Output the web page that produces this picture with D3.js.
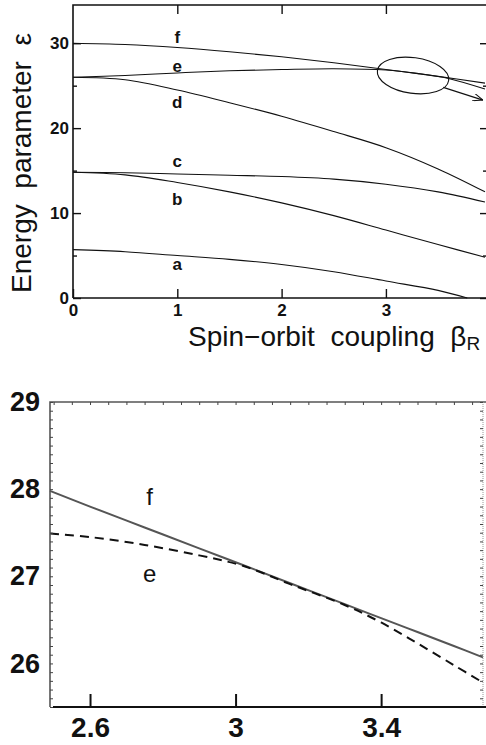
<!DOCTYPE html>
<html>
<head>
<meta charset="utf-8">
<script src="https://cdn.jsdelivr.net/npm/d3@7"></script>
<style>
    body { margin: 0; background: #fff; }
    svg { display: block; }
    text { font-family: "Liberation Sans", Arial, Helvetica, sans-serif; }
</style>
</head>
<body>
<div id="container"></div>
<script>
// 上图：能级 a-f 随自旋轨道耦合 β 的变化
const topBeta = [0, 0.5, 1, 1.5, 2, 2.5, 3, 3.5, 3.95];
const levelB = [14.8, 14.5, 13.6, 12.5, 11.2, 9.7, 8.0, 6.3, 4.8];
const levelC = [14.8, 14.75, 14.6, 14.45, 14.3, 14.0, 13.4, 12.5, 11.3];
const levelD = [26.0, 25.7, 24.5, 23.0, 21.4, 19.6, 17.7, 15.2, 12.5];
const levelF = [30.0, 29.85, 29.5, 29.0, 28.4, 27.7, 26.9, 26.1, 25.3];
const betaA = [0, 0.5, 1, 1.5, 2, 2.5, 3, 3.5, 3.78];
const levelA = [5.7, 5.45, 5.0, 4.55, 3.95, 3.1, 2.0, 0.9, 0];
const betaE = [0, 0.5, 1, 1.5, 2, 2.5, 3, 3.3, 3.6, 3.95];
const levelE = [26.0, 26.2, 26.5, 26.75, 26.9, 27.0, 26.85, 26.45, 25.85, 24.6];
const levelNames = ['a', 'b', 'c', 'd', 'e', 'f'];
const labelBeta = 1;
const labelEps = [3.3, 10.9, 15.4, 22.4, 26.6, 30.0];
const topXTicks = [0, 1, 2, 3];
const topYTicks = [0, 10, 20, 30];
const topYMinor = [5, 15, 25];
const topRightTicks = [0, 5, 10, 15, 20, 25, 30];

// 下图：e 和 f 的放大
const zoomBeta = [2.49, 2.6, 2.75, 2.9, 3.02, 3.15, 3.3, 3.4, 3.5, 3.6, 3.68];
const zoomF = [27.98, 27.8, 27.56, 27.32, 27.13, 26.92, 26.68, 26.52, 26.36, 26.2, 26.07];
const zoomE = [27.49, 27.45, 27.36, 27.24, 27.12, 26.91, 26.67, 26.47, 26.23, 25.98, 25.78];
const zoomXTicks = [2.6, 3, 3.4];
const zoomYTicks = [26, 27, 28, 29];
const zoomLabels = [{name: 'f', beta: 2.764, eps: 27.82}, {name: 'e', beta: 2.764, eps: 26.93}];

// 圈出的交叉区域和箭头（数据坐标）
const circleSpot = {beta: 3.26, eps: 26.2, rBeta: 0.345, rEps: 2.1, angle: 8};
const arrowFrom = [3.55, 24.8];
const arrowTo = [3.93, 23.3];

const WIDTH = 486, HEIGHT = 745;

const svg = d3.select('#container')
    .append('svg')
    .attr('width', WIDTH)
    .attr('height', HEIGHT);

svg.append('defs').append('marker')
    .attr('id', 'arrowHead')
    .attr('viewBox', '0 0 10 8')
    .attr('refX', 10)
    .attr('refY', 4)
    .attr('markerWidth', 10)
    .attr('markerHeight', 8)
    .attr('markerUnits', 'userSpaceOnUse')
    .attr('orient', 'auto')
    .append('path')
    .attr('d', 'M0,0 L10,4 L0,8')
    .attr('fill', 'none')
    .attr('stroke', '#111')
    .attr('stroke-width', 1);

const styleAxis = (g, size) => {
    g.select('.domain').remove();
    g.selectAll('.tick line').attr('stroke', '#111').attr('stroke-width', 1.4);
    g.selectAll('.tick text')
        .attr('fill', '#111')
        .style('font-size', size + 'px')
        .style('font-weight', 'bold');
};

// ---------- 上图 ----------
const x = d3.scaleLinear().domain([0, 3.95]).range([73, 485]);
const y = d3.scaleLinear().domain([0, 34.5]).range([298, 5]);

const topG = svg.append('g');

const line = d3.line()
    .x(d => x(d[0]))
    .y(d => y(d[1]))
    .curve(d3.curveCatmullRom.alpha(0.5));

const levels = [
    d3.zip(betaA, levelA),
    d3.zip(topBeta, levelB),
    d3.zip(topBeta, levelC),
    d3.zip(topBeta, levelD),
    d3.zip(betaE, levelE),
    d3.zip(topBeta, levelF)
];

topG.append('g')
    .selectAll('path')
    .data(levels)
    .join('path')
    .attr('d', line)
    .attr('fill', 'none')
    .attr('stroke', '#111')
    .attr('stroke-width', 1.1);

// 坐标框
topG.append('path')
    .attr('d', `M${x(0)},${y(0)} V${y.range()[1]} H${WIDTH + 2} M${x(0)},${y(0)} H${WIDTH + 2}`)
    .attr('fill', 'none')
    .attr('stroke', '#111')
    .attr('stroke-width', 1.6);

topG.append('g')
    .attr('transform', `translate(${x(0)},0)`)
    .call(d3.axisLeft(y).tickValues(topYTicks).tickSize(-8).tickPadding(4).tickFormat(d3.format('d')))
    .call(g => styleAxis(g, 17));

topG.append('g')
    .attr('transform', `translate(${x(0)},0)`)
    .call(d3.axisLeft(y).tickValues(topYMinor).tickSize(-4).tickFormat(''))
    .call(g => styleAxis(g, 17));

topG.append('g')
    .attr('transform', `translate(0,${y(0)})`)
    .call(d3.axisBottom(x).tickValues(topXTicks).tickSize(-9).tickPadding(6).tickFormat(d3.format('d')))
    .call(g => styleAxis(g, 17));

topG.append('g')
    .attr('transform', `translate(0,${y.range()[1]})`)
    .call(d3.axisTop(x).tickValues(topXTicks.slice(1)).tickSize(-9).tickFormat(''))
    .call(g => styleAxis(g, 17));

topG.append('g')
    .attr('transform', `translate(${WIDTH + 2},0)`)
    .call(d3.axisRight(y).tickValues(topRightTicks).tickSize(-6).tickFormat(''))
    .call(g => styleAxis(g, 17))
    .call(g => g.selectAll('.tick line').attr('x2', d => d % 10 === 0 ? -8 : -5));

// 能级标签
topG.append('g')
    .selectAll('text')
    .data(levelNames)
    .join('text')
    .attr('x', x(labelBeta))
    .attr('y', (d, i) => y(labelEps[i]))
    .attr('text-anchor', 'middle')
    .style('font-size', '17px')
    .style('font-weight', 'bold')
    .attr('fill', '#111')
    .text(d => d);

// 椭圆和箭头
const cx = x(circleSpot.beta), cy = y(circleSpot.eps);
topG.append('ellipse')
    .attr('cx', cx)
    .attr('cy', cy)
    .attr('rx', x(circleSpot.beta + circleSpot.rBeta) - cx)
    .attr('ry', y(circleSpot.eps - circleSpot.rEps) - cy)
    .attr('transform', `rotate(${circleSpot.angle},${cx},${cy})`)
    .attr('fill', 'none')
    .attr('stroke', '#111')
    .attr('stroke-width', 1.1);

topG.append('line')
    .attr('x1', x(arrowFrom[0]))
    .attr('y1', y(arrowFrom[1]))
    .attr('x2', x(arrowTo[0]))
    .attr('y2', y(arrowTo[1]))
    .attr('stroke', '#111')
    .attr('stroke-width', 1.1)
    .attr('marker-end', 'url(#arrowHead)');

// 轴标题
topG.append('text')
    .attr('transform', 'translate(31,163) rotate(-90)')
    .attr('text-anchor', 'middle')
    .style('font-size', '28px')
    .attr('fill', '#111')
    .attr('xml:space', 'preserve')
    .text('Energy  parameter  \u03b5');

const xTitle = topG.append('text')
    .attr('x', 188)
    .attr('y', 346)
    .style('font-size', '28px')
    .attr('fill', '#111')
    .attr('xml:space', 'preserve');
xTitle.append('tspan').text('Spin\u2212orbit  coupling  \u03b2');
xTitle.append('tspan').attr('dy', 4).style('font-size', '19px').text('R');

// ---------- 下图 ----------
const zx = d3.scaleLinear().domain([2.49, 3.68]).range([50, 483]);
const zy = d3.scaleLinear().domain([25.5, 29]).range([707, 402]);

const bottomG = svg.append('g');

const zoomLine = d3.line()
    .x(d => zx(d[0]))
    .y(d => zy(d[1]))
    .curve(d3.curveCatmullRom.alpha(0.5));

bottomG.append('path')
    .attr('d', zoomLine(d3.zip(zoomBeta, zoomF)))
    .attr('fill', 'none')
    .attr('stroke', '#555')
    .attr('stroke-width', 2);

bottomG.append('path')
    .attr('d', zoomLine(d3.zip(zoomBeta, zoomE)))
    .attr('fill', 'none')
    .attr('stroke', '#111')
    .attr('stroke-width', 2)
    .attr('stroke-dasharray', '9,6');

// 框线
bottomG.append('path')
    .attr('d', `M${zx.range()[0]},${zy.range()[0]} V${zy.range()[1]} H${WIDTH}`)
    .attr('fill', 'none')
    .attr('stroke', '#555')
    .attr('stroke-width', 1.6);

bottomG.append('line')
    .attr('x1', zx.range()[1]).attr('x2', zx.range()[1])
    .attr('y1', zy.range()[1]).attr('y2', zy.range()[0])
    .attr('stroke', '#999')
    .attr('stroke-width', 1)
    .attr('stroke-dasharray', '1,1');

const thin = g => {
    g.select('.domain').remove();
    g.selectAll('.tick line').attr('stroke', '#444').attr('stroke-width', 1);
};

bottomG.append('g')
    .attr('transform', `translate(${zx.range()[0]},0)`)
    .call(d3.axisLeft(zy).ticks(35).tickSize(-3).tickFormat(''))
    .call(thin);

bottomG.append('g')
    .attr('transform', `translate(${zx.range()[1]},0)`)
    .call(d3.axisRight(zy).ticks(35).tickSize(-3).tickFormat(''))
    .call(thin);

bottomG.append('g')
    .attr('transform', `translate(0,${zy.range()[1]})`)
    .call(d3.axisTop(zx).ticks(24).tickSize(-3).tickFormat(''))
    .call(thin);

bottomG.append('g')
    .attr('transform', `translate(${zx.range()[0]},0)`)
    .call(d3.axisLeft(zy).tickValues(zoomYTicks).tickSize(0).tickPadding(10).tickFormat(d3.format('d')))
    .call(g => styleAxis(g, 27));

bottomG.append('g')
    .attr('transform', `translate(0,${zy.range()[0]})`)
    .call(d3.axisBottom(zx).tickValues(zoomXTicks).tickSize(-13).tickPadding(10).tickFormat(d => d === 3 ? '3' : d3.format('.1f')(d)))
    .call(g => styleAxis(g, 28))
    .call(g => g.selectAll('.tick line').attr('stroke-width', 2));

bottomG.append('line')
    .attr('x1', zx.range()[0] + 3).attr('x2', WIDTH)
    .attr('y1', zy.range()[0]).attr('y2', zy.range()[0])
    .attr('stroke', '#111')
    .attr('stroke-width', 2);

bottomG.append('g')
    .selectAll('text')
    .data(zoomLabels)
    .join('text')
    .attr('x', d => zx(d.beta))
    .attr('y', d => zy(d.eps))
    .attr('text-anchor', 'middle')
    .style('font-size', '24px')
    .attr('fill', '#111')
    .text(d => d.name);
</script>
</body>
</html>
